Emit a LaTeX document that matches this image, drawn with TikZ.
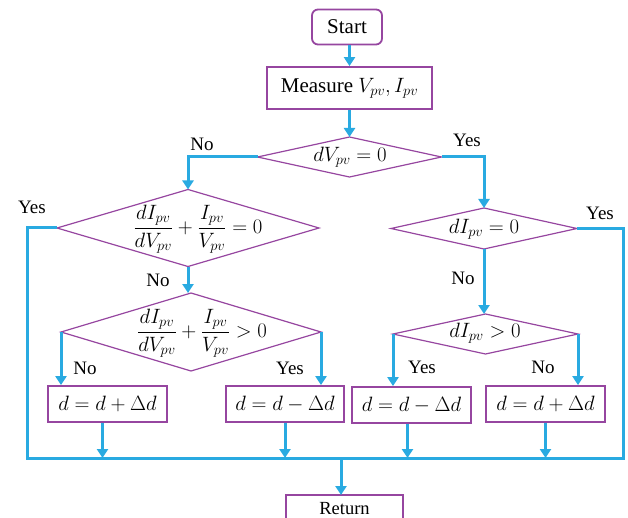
\documentclass[tikz,border=0pt]{standalone}
\usepackage{amsmath}
\usepackage{fontspec}
\setmainfont{Liberation Serif}
\usetikzlibrary{arrows.meta}
\definecolor{flowblue}{RGB}{41,170,225}
\definecolor{flowpurple}{RGB}{150,70,160}
\begin{document}
\begin{tikzpicture}[x=1pt,y=-1pt,
  box/.style={draw=flowpurple,line width=1.8pt,fill=white,inner sep=0pt,font=\fontsize{20}{24}\selectfont},
  boxline/.style={draw=flowpurple,line width=1.8pt},
  startbox/.style={box,rounded corners=6pt,font=\fontsize{21}{25}\selectfont},
  diahold/.style={inner sep=0pt,outer sep=0pt},
  dtext/.style={inner sep=0pt,font=\fontsize{20}{24}\selectfont},
  dia/.style={draw=flowpurple,line width=1.2pt},
  flow/.style={draw=flowblue,line width=3pt},
  arr/.style={flow,-{Triangle[length=9pt,width=11pt]}},
  lab/.style={font=\fontsize{19}{23}\selectfont,inner sep=0pt}]
\useasboundingbox (0,0) rectangle (628,518);
\clip (0,0) rectangle (628,518);

% top boxes
\node[startbox,minimum width=70pt,minimum height=35pt] (start) at (347,27) {Start};
\node[box,minimum width=165pt,minimum height=42pt,font=\fontsize{21}{25}\selectfont] (meas) at (349.5,88) {Measure $V_{pv}, I_{pv}$};

% diamond holders
\node[diahold,minimum width=184pt,minimum height=40pt] (d1) at (349.5,157) {};
\node[diahold,minimum width=262pt,minimum height=77pt] (d2) at (188,228) {};
\node[diahold,minimum width=186pt,minimum height=41pt] (d3) at (484,228.5) {};
\node[diahold,minimum width=260pt,minimum height=78pt] (d4) at (191,332) {};
\node[diahold,minimum width=185pt,minimum height=40pt] (d5) at (485.5,334) {};

\foreach \d in {d1,d2,d3,d4,d5}
  \draw[dia] (\d.north) -- (\d.east) -- (\d.south) -- (\d.west) -- cycle;

% diamond texts
\node[dtext] (t1) at (350,157) {$dV_{pv}=0$};
\node[dtext] (t2) at (198,229) {$\dfrac{dI_{pv}}{dV_{pv}}+\dfrac{I_{pv}}{V_{pv}}=0$};
\node[dtext] (t3) at (484,229) {$dI_{pv}=0$};
\node[dtext] (t4) at (202,333) {$\dfrac{dI_{pv}}{dV_{pv}}+\dfrac{I_{pv}}{V_{pv}}>0$};
\node[dtext] (t5) at (485,333) {$dI_{pv}>0$};

% action boxes
\node[box,minimum width=119pt,minimum height=36pt] (b5) at (107.5,404) {$d=d+\Delta d$};
\node[box,minimum width=118pt,minimum height=36pt] (b6) at (285,404) {$d=d-\Delta d$};
\node[box,minimum width=119pt,minimum height=36pt] (b7) at (411.5,405) {$d=d-\Delta d$};
\node[box,minimum width=119pt,minimum height=36pt] (b8) at (545.5,404) {$d=d+\Delta d$};

% Return box (cut by the lower edge of the picture)
\coordinate (rtl) at (286,495);
\coordinate (rtr) at (403,495);
\coordinate (rbl) at (286,522);
\coordinate (rbr) at (403,522);
\draw[boxline] (rbl) -- (rtl) -- (rtr) -- (rbr);
\node[inner sep=0pt,font=\fontsize{18.5}{22}\selectfont] (ret) at (344.5,509) {Return};

% bottom collector corners
\coordinate (bl) at (27,458);
\coordinate (br) at (623,458);
\coordinate (rj) at (341,458);

% connectors
\draw[arr] (meas.north |- start.south) -- (meas.north);
\draw[arr] (meas.south) -- (d1.north);
\draw[arr] (d1.west) -| (d2.north);
\draw[arr] (d1.east) -| (d3.north);
\draw[arr] (d2.south) -- (d2.south |- d4.north);
\draw[arr] (d3.south) -- (d3.south |- d5.north);
\draw[arr] (d4.west) -- (d4.west |- b5.north);
\draw[arr] (d4.east) -- (d4.east |- b6.north);
\draw[arr] (d5.west) -- (d5.west |- b7.north);
\draw[arr] (d5.east) -- (d5.east |- b8.north);
\draw[flow] (d2.west) -| (bl) -- (br) |- (d3.east);
\draw[arr] ([xshift=-5pt]b5.south) -- ([xshift=-5pt]b5.south |- bl);
\draw[arr] (b6.south) -- (b6.south |- bl);
\draw[arr] ([xshift=-4pt]b7.south) -- ([xshift=-4pt]b7.south |- bl);
\draw[arr] (b8.south) -- (b8.south |- bl);
\draw[arr] (rj) -- (rj |- rtl);

% labels
\node[lab] (l1) at (202,144) {No};
\node[lab] (l2) at (467,140) {Yes};
\node[lab] (l3) at (32,207) {Yes};
\node[lab] (l4) at (158,280) {No};
\node[lab] (l5) at (85,368) {No};
\node[lab] (l6) at (290,368) {Yes};
\node[lab] (l7) at (600,213) {Yes};
\node[lab] (l8) at (463,278) {No};
\node[lab] (l9) at (422,367) {Yes};
\node[lab] (l10) at (543,367) {No};
\end{tikzpicture}
\end{document}
